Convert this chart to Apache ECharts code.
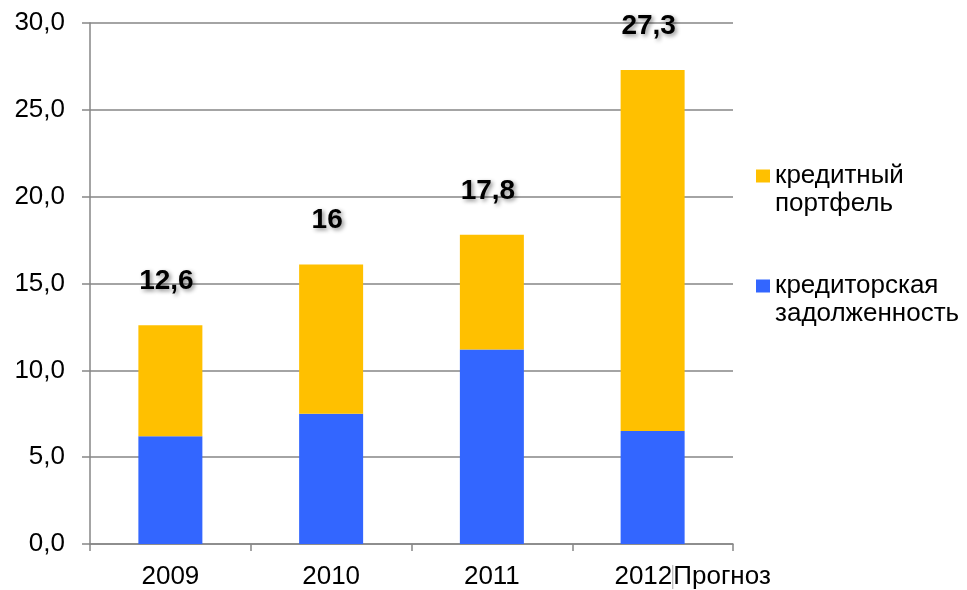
<!DOCTYPE html>
<html>
<head>
<meta charset="utf-8">
<script src="https://cdn.jsdelivr.net/npm/echarts@6/dist/echarts.min.js"></script>
<style>
  html, body { margin: 0; padding: 0; background: #fff; }
  #chart { width: 967px; height: 590px; }
</style>
</head>
<body>
<div id="chart"></div>
<script>
// data
var years = ['2009', '2010', '2011', '2012Прогноз'];
var zadolzh = [6.2, 7.5, 11.2, 6.5];      // кредиторская задолженность
var portfel = [6.4, 8.6, 6.6, 20.8];      // кредитный портфель
var totals = [12.6, 16, 17.8, 27.3];      // подписи над столбцами
var yTicks = [0, 5, 10, 15, 20, 25, 30];

var chart = echarts.init(document.getElementById('chart'));

var fmt = function (v) {
    return String(v).replace('.', ',');
};

// blank first line so the square sits next to the first text line
var legendCommon = {
    orient: 'vertical',
    left: 756,
    padding: 0,
    icon: 'rect',
    itemWidth: 14,
    itemHeight: 13,
    itemGap: 8,
    formatter: function (name) { return ' \n' + name; },
    textStyle: {
        fontFamily: 'Liberation Sans',
        fontSize: 26,
        lineHeight: 28,
        color: '#000'
    }
};

var option = {
    animation: false,
    textStyle: { fontFamily: 'Liberation Sans' },
    grid: { left: 90, right: 234, top: 23, bottom: 43 },
    legend: [
        Object.assign({ data: ['кредитный\nпортфель'], top: 134 }, legendCommon),
        Object.assign({ data: ['кредиторская\nзадолженность'], top: 244 }, legendCommon)
    ],
    xAxis: {
        type: 'category',
        data: years,
        axisLine: { lineStyle: { color: '#868686', width: 1.5 } },
        axisTick: { show: true, length: 7, lineStyle: { color: '#868686', width: 1.5 } },
        axisLabel: {
            interval: 0,
            margin: 20,
            fontSize: 26,
            color: '#000',
            formatter: function (v) {
                if (v.indexOf('Прогноз') > 0) {
                    return '{g|}' + v.replace('Прогноз', '{s|}Прогноз');
                }
                return v;
            },
            rich: {
                g: { width: 80 },
                s: { width: 1, height: 24, backgroundColor: '#aaa' }
            }
        }
    },
    yAxis: {
        type: 'value',
        min: yTicks[0],
        max: yTicks[yTicks.length - 1],
        interval: 5,
        axisLine: { show: true, lineStyle: { color: '#868686', width: 1.5 } },
        axisTick: { show: true, length: 8, lineStyle: { color: '#868686', width: 1.5 } },
        splitLine: { lineStyle: { color: '#868686', width: 1.5 } },
        axisLabel: {
            margin: 25,
            fontSize: 26,
            color: '#000',
            formatter: function (v) { return v.toFixed(1).replace('.', ','); }
        }
    },
    series: [{
        name: 'кредиторская\nзадолженность',
        type: 'bar',
        stack: 'total',
        barWidth: 64,
        itemStyle: { color: '#3366FF' },
        data: zadolzh
    }, {
        name: 'кредитный\nпортфель',
        type: 'bar',
        stack: 'total',
        barWidth: 64,
        itemStyle: { color: '#FFC000' },
        data: portfel,
        label: {
            show: true,
            position: 'top',
            distance: 30,
            offset: [-4, 0],
            fontSize: 28,
            fontWeight: 'bold',
            color: '#000',
            textShadowColor: 'rgba(0,0,0,0.45)',
            textShadowBlur: 4,
            textShadowOffsetX: 2,
            textShadowOffsetY: 2,
            formatter: function (p) { return fmt(totals[p.dataIndex]); }
        }
    }]
};

chart.setOption(option);
</script>
</body>
</html>
